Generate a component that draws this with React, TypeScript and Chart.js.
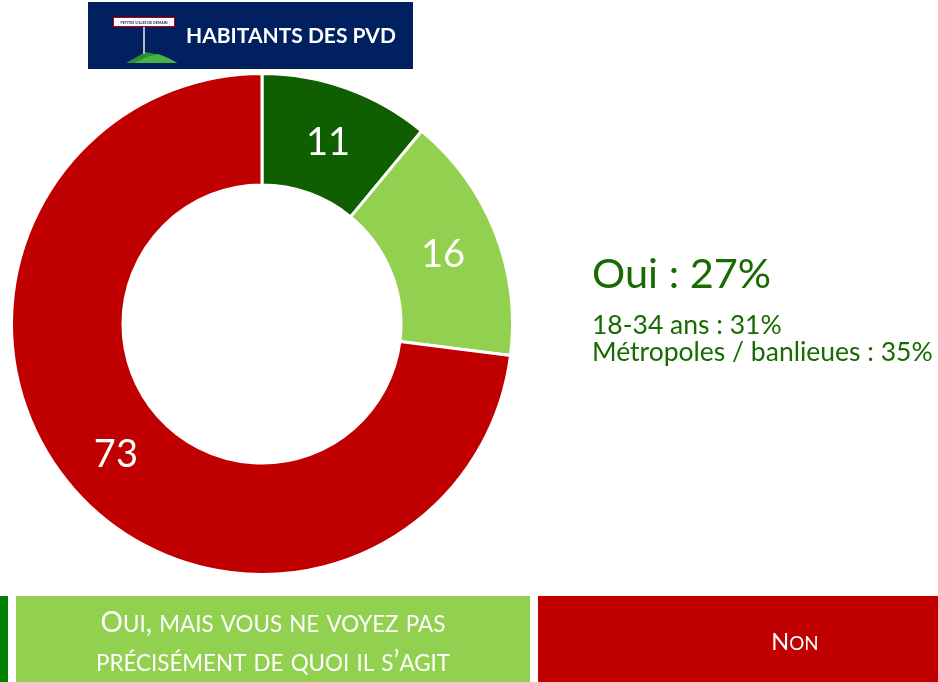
import { useEffect, useRef } from "react";
import { Chart, registerables } from "chart.js";

Chart.register(...registerables);

// Survey answers (percent)
const categories = [
  "Oui, et vous voyez bien de quoi il s’agit",
  "Oui, mais vous ne voyez pas précisément de quoi il s’agit",
  "Non",
];
const values = [11, 16, 73];
const sliceColors = ["#0F5E00", "#92D050", "#C00000"];

// Legend strip under the doughnut
const legendLines = [
  ["Oui, et vous voyez bien", "de quoi il s’agit"],
  ["Oui, mais vous ne voyez pas", "précisément de quoi il s’agit"],
  ["Non"],
];
const legendColors = ["#008000", "#92D050", "#C00000"];

// Side summary
const headline = "Oui : 27%";
const details = ["18-34 ans : 31%", "Métropoles / banlieues : 35%"];

// Header banner
const bannerTitle = "HABITANTS DES PVD";
const signText = "PETITES VILLES DE DEMAIN";

const W = 938;
const H = 682;
const FONT = "Lato, 'Open Sans', sans-serif";

function drawSmallCaps(
  ctx: CanvasRenderingContext2D,
  text: string,
  cx: number,
  baseline: number,
  size: number
) {
  const small = size * 0.8;
  const runs: { t: string; s: number }[] = [];
  for (const ch of text) {
    const lower = ch !== ch.toUpperCase();
    const s = lower ? small : size;
    const c = lower ? ch.toUpperCase() : ch;
    const last = runs[runs.length - 1];
    if (last && last.s === s) last.t += c;
    else runs.push({ t: c, s });
  }
  let total = 0;
  const widths = runs.map((r) => {
    ctx.font = `${r.s}px ${FONT}`;
    const w = ctx.measureText(r.t).width;
    total += w;
    return w;
  });
  let x = cx - total / 2;
  ctx.textAlign = "left";
  ctx.textBaseline = "alphabetic";
  runs.forEach((r, i) => {
    ctx.font = `${r.s}px ${FONT}`;
    ctx.fillText(r.t, x, baseline);
    x += widths[i];
  });
}

const decorPlugin = {
  id: "decor",
  afterDraw(chart: any) {
    const ctx: CanvasRenderingContext2D = chart.ctx;
    ctx.save();

    // Banner
    ctx.fillStyle = "#002060";
    ctx.fillRect(88, 2, 325, 67);
    // Sign post on a green hill
    ctx.fillStyle = "#2E8B2E";
    ctx.beginPath();
    ctx.moveTo(126, 63);
    ctx.quadraticCurveTo(138, 56, 146, 52);
    ctx.quadraticCurveTo(162, 55, 177, 63);
    ctx.closePath();
    ctx.fill();
    ctx.fillStyle = "#46B446";
    ctx.beginPath();
    ctx.moveTo(134, 63);
    ctx.quadraticCurveTo(150, 55, 158, 54);
    ctx.quadraticCurveTo(170, 58, 177, 63);
    ctx.closePath();
    ctx.fill();
    ctx.fillStyle = "#B8B8B8";
    ctx.fillRect(143, 27, 2, 27);
    ctx.fillStyle = "#FFFFFF";
    ctx.fillRect(113, 17, 62, 10);
    ctx.strokeStyle = "#C00000";
    ctx.lineWidth = 1;
    ctx.strokeRect(113.5, 17.5, 61, 9);
    ctx.fillStyle = "#1F2A6B";
    ctx.font = `bold 3.6px ${FONT}`;
    ctx.textAlign = "center";
    ctx.textBaseline = "alphabetic";
    ctx.fillText(signText, 144, 23.6);
    // Banner title
    ctx.fillStyle = "#FFFFFF";
    ctx.font = `bold 21px ${FONT}`;
    ctx.textAlign = "left";
    ctx.fillText(bannerTitle, 186, 43);

    // Side summary
    ctx.fillStyle = "#176B00";
    ctx.font = `41.5px ${FONT}`;
    ctx.fillText(headline, 592, 288);
    ctx.font = `26.5px ${FONT}`;
    ctx.fillText(details[0], 592, 334);
    ctx.fillText(details[1], 592, 361);

    // Legend strip
    const boxW = 514;
    const gap = 8;
    const startX = -506;
    const top = 596;
    const boxH = 86;
    const sizes = [28, 28, 23.5];
    legendLines.forEach((lines, i) => {
      const x = startX + i * (boxW + gap);
      ctx.fillStyle = legendColors[i];
      ctx.fillRect(x, top, boxW, boxH);
      ctx.fillStyle = "#FFFFFF";
      const size = sizes[i];
      const lineGap = 39;
      const cy = top + boxH / 2;
      const first = cy + size * 0.45 - ((lines.length - 1) * lineGap) / 2;
      lines.forEach((ln, j) => {
        drawSmallCaps(ctx, ln, x + boxW / 2, first + j * lineGap, size);
      });
    });

    ctx.restore();
  },
};

const valueLabelPlugin = {
  id: "valueLabels",
  afterDatasetsDraw(chart: any) {
    const ctx: CanvasRenderingContext2D = chart.ctx;
    const meta = chart.getDatasetMeta(0);
    const size = 38;
    ctx.save();
    ctx.fillStyle = "#FFFFFF";
    ctx.font = `${size}px ${FONT}`;
    ctx.textAlign = "center";
    ctx.textBaseline = "alphabetic";
    meta.data.forEach((arc: any, i: number) => {
      const p = arc.tooltipPosition();
      ctx.fillText(String(values[i]), p.x, p.y + size * 0.38);
    });
    ctx.restore();
  },
};

export default function App() {
  const ref = useRef<HTMLCanvasElement | null>(null);

  useEffect(() => {
    if (!ref.current) return;
    const chart = new Chart(ref.current, {
      type: "doughnut",
      data: {
        labels: categories,
        datasets: [
          {
            data: values,
            backgroundColor: sliceColors,
            borderColor: "#FFFFFF",
            borderWidth: 3,
          },
        ],
      },
      options: {
        responsive: false,
        animation: false,
        cutout: "55.5%",
        layout: { padding: { left: 10, top: 72, right: 424, bottom: 106 } },
        plugins: {
          legend: { display: false },
          tooltip: { enabled: false },
        },
      },
      plugins: [valueLabelPlugin, decorPlugin],
    });
    return () => chart.destroy();
  }, []);

  return (
    <div style={{ position: "fixed", left: 0, top: 0, width: W, height: H, background: "#FFFFFF" }}>
      <canvas ref={ref} width={W} height={H} style={{ display: "block" }} />
    </div>
  );
}
